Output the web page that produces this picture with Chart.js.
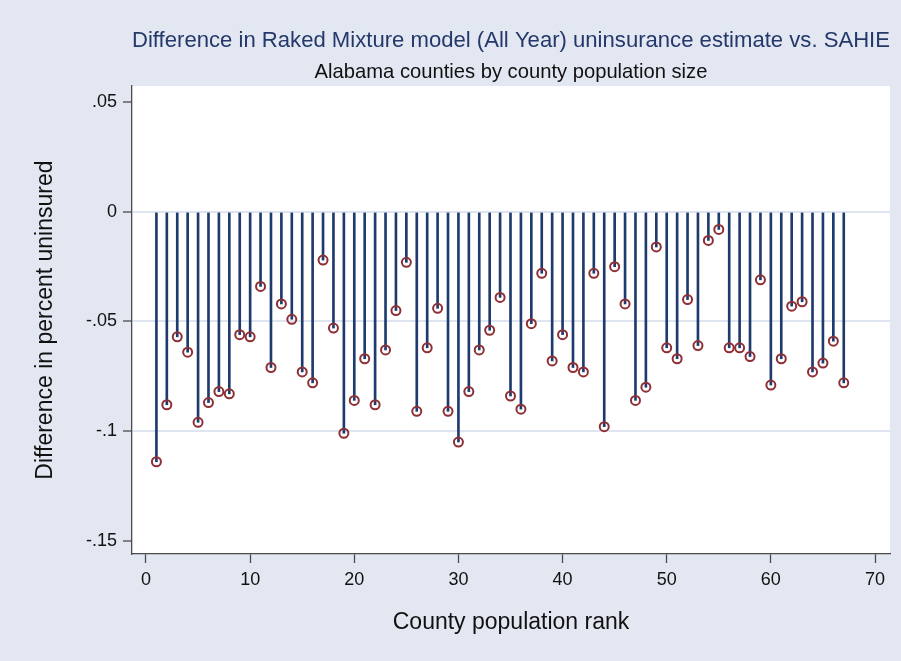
<!DOCTYPE html>
<html>
<head>
<meta charset="utf-8">
<script src="https://cdn.jsdelivr.net/npm/chart.js@4"></script>
<style>
  html, body { margin: 0; padding: 0; background: #ffffff; }
  #wrap { width: 901px; height: 661px; }
</style>
</head>
<body>
<div id="wrap"><canvas id="spikeChart" width="901" height="661"></canvas></div>
<script>
// County population rank (1 = largest county)
const ranks = [
  1, 2, 3, 4, 5, 6, 7, 8, 9, 10, 11, 12, 13, 14, 15, 16, 17, 18, 19, 20,
  21, 22, 23, 24, 25, 26, 27, 28, 29, 30, 31, 32, 33, 34, 35, 36, 37, 38, 39, 40,
  41, 42, 43, 44, 45, 46, 47, 48, 49, 50, 51, 52, 53, 54, 55, 56, 57, 58, 59, 60,
  61, 62, 63, 64, 65, 66, 67
];

// Difference in percent uninsured (Raked Mixture model minus SAHIE)
const differences = [
  -0.114, -0.088, -0.057, -0.064, -0.096, -0.087, -0.082, -0.083, -0.056, -0.057,
  -0.034, -0.071, -0.042, -0.049, -0.073, -0.078, -0.022, -0.053, -0.101, -0.086,
  -0.067, -0.088, -0.063, -0.045, -0.023, -0.091, -0.062, -0.044, -0.091, -0.105,
  -0.082, -0.063, -0.054, -0.039, -0.084, -0.090, -0.051, -0.028, -0.068, -0.056,
  -0.071, -0.073, -0.028, -0.098, -0.025, -0.042, -0.086, -0.080, -0.016, -0.062,
  -0.067, -0.040, -0.061, -0.013, -0.008, -0.062, -0.062, -0.066, -0.031, -0.079,
  -0.067, -0.043, -0.041, -0.073, -0.069, -0.059, -0.078
];

const xTickValues = [0, 10, 20, 30, 40, 50, 60, 70];
const yTickValues = [-0.15, -0.1, -0.05, 0, 0.05];
const yTickLabels = ['-.15', '-.1', '-.05', '0', '.05'];

const bgColor = '#e2e7f1';
const gridColor = '#dfe5f0';
const axisColor = '#4a4a4a';
const spikeColor = '#1f3b6e';
const markerColor = '#8e2f35';
const fontFamily = '"Liberation Sans", Arial, Helvetica, sans-serif';

// paints the outer background and the white plot region
const backgroundPlugin = {
  id: 'backgrounds',
  beforeDraw(chart) {
    const { ctx, chartArea } = chart;
    ctx.save();
    ctx.fillStyle = bgColor;
    ctx.fillRect(0, 0, chart.width, chart.height);
    ctx.fillStyle = '#ffffff';
    ctx.fillRect(chartArea.left, chartArea.top,
      chartArea.right - chartArea.left, chartArea.bottom - chartArea.top);
    ctx.restore();
  }
};

const spikes = ranks.map((r, i) => ({ x: r, y: [0, differences[i]] }));
const points = ranks.map((r, i) => ({ x: r, y: differences[i] }));

new Chart(document.getElementById('spikeChart'), {
  type: 'bar',
  data: {
    datasets: [
      {
        type: 'bar',
        data: spikes,
        backgroundColor: spikeColor,
        borderWidth: 0,
        barThickness: 2,
        grouped: false,
        order: 2
      },
      {
        type: 'scatter',
        data: points,
        pointStyle: 'circle',
        pointRadius: 4.5,
        pointBorderWidth: 2,
        pointBackgroundColor: 'rgba(0,0,0,0)',
        pointBorderColor: markerColor,
        order: 1
      }
    ]
  },
  options: {
    responsive: false,
    animation: false,
    layout: { padding: { top: 0, right: 11, bottom: 0, left: 0 } },
    plugins: {
      legend: { display: false },
      tooltip: { enabled: false },
      title: {
        display: true,
        fullSize: false,
        text: 'Difference in Raked Mixture model (All Year) uninsurance estimate vs. SAHIE',
        color: '#24386a',
        font: { family: fontFamily, size: 22.4, weight: 'normal' },
        padding: { top: 27, bottom: 6 }
      },
      subtitle: {
        display: true,
        fullSize: false,
        text: 'Alabama counties by county population size',
        color: '#111111',
        font: { family: fontFamily, size: 20.2, weight: 'normal' },
        padding: { top: 0, bottom: 2 }
      }
    },
    scales: {
      x: {
        type: 'linear',
        offset: false,
        min: -1.344,
        max: 71.44,
        afterFit: s => { s.height = 107; },
        afterBuildTicks: s => { s.ticks = xTickValues.map(v => ({ value: v })); },
        ticks: {
          color: '#111111',
          padding: 6,
          maxRotation: 0,
          font: { family: fontFamily, size: 18 }
        },
        grid: {
          offset: false,
          drawOnChartArea: false,
          drawTicks: true,
          tickLength: 9,
          tickColor: axisColor,
          tickWidth: 1.3
        },
        border: { display: true, color: axisColor, width: 1.3 },
        title: {
          display: true,
          text: 'County population rank',
          color: '#111111',
          font: { family: fontFamily, size: 23 },
          padding: { top: 0, bottom: 25 }
        }
      },
      y: {
        type: 'linear',
        min: -0.1561,
        max: 0.0574,
        afterFit: s => { s.width = 132; },
        afterBuildTicks: s => { s.ticks = yTickValues.map(v => ({ value: v })); },
        ticks: {
          color: '#111111',
          padding: 6,
          font: { family: fontFamily, size: 18 },
          callback: (value, index) => yTickLabels[index]
        },
        grid: {
          color: c => (c.tick && (c.tick.value === 0.05 || c.tick.value === -0.15)) ? 'rgba(0,0,0,0)' : gridColor,
          lineWidth: 2,
          drawTicks: true,
          tickLength: 9,
          tickColor: axisColor,
          tickWidth: 1.3
        },
        border: { display: true, color: axisColor, width: 1.3 },
        title: {
          display: true,
          text: 'Difference in percent uninsured',
          color: '#111111',
          font: { family: fontFamily, size: 23 },
          padding: { top: 31.5, bottom: 0 }
        }
      }
    }
  },
  plugins: [backgroundPlugin]
});
</script>
</body>
</html>
